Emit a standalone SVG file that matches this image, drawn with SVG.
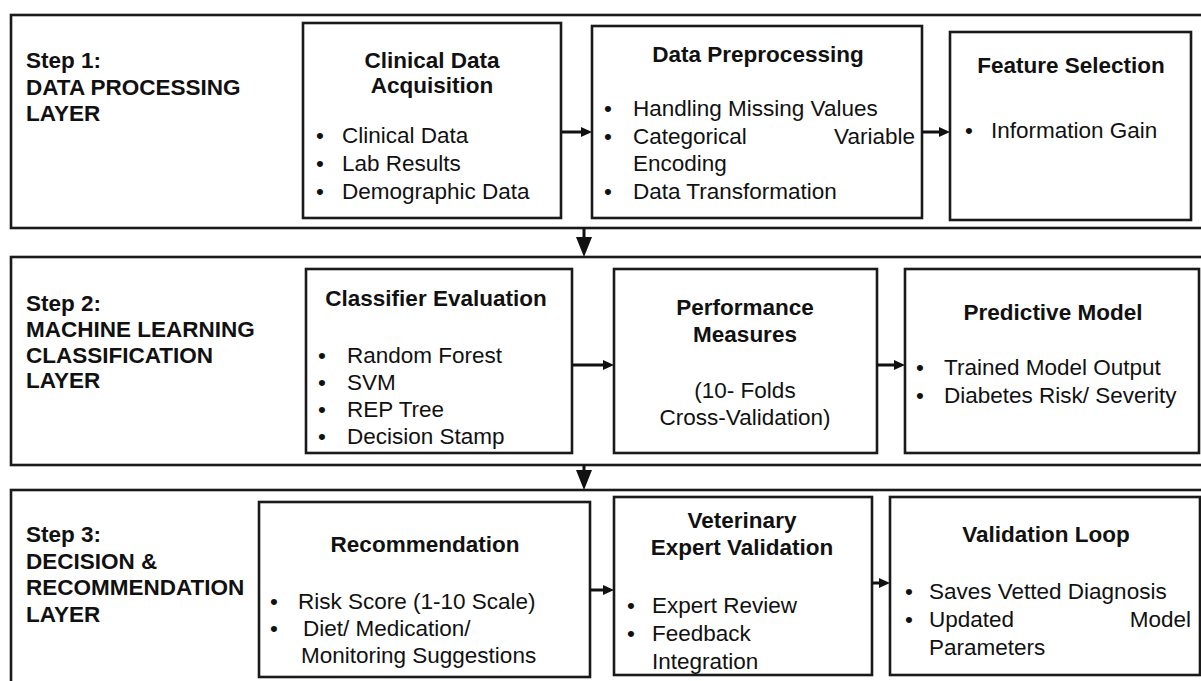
<svg xmlns="http://www.w3.org/2000/svg" width="1201" height="681" viewBox="0 0 1201 681">
<style>
text{font-family:"Liberation Sans",Arial,sans-serif;font-size:22.5px;fill:#111}
.b{font-weight:bold}
.c{text-anchor:middle}
.e{text-anchor:end}
.layer{fill:none;stroke:#1a1a1a;stroke-width:2.6}
.box{fill:#fff;stroke:#1a1a1a;stroke-width:2.6}
.con{stroke:#111;stroke-width:3;fill:none}
</style>
<defs>
<marker id="ah" viewBox="0 0 11 10" refX="1" refY="5" markerWidth="11" markerHeight="10" markerUnits="userSpaceOnUse" orient="auto"><path d="M0,0 L11,5 L0,10 z" fill="#111"/></marker>
<marker id="ahBig" viewBox="0 0 20 16" refX="1" refY="8" markerWidth="20" markerHeight="16" markerUnits="userSpaceOnUse" orient="auto"><path d="M0,0 L20,8 L0,16 z" fill="#111"/></marker>
</defs>
<rect width="1201" height="681" fill="#fff"/>

<g id="layer1">
<rect class="layer" x="11" y="15" width="1210" height="213"/>
<text class="b" x="26" y="68">Step 1:</text>
<text class="b" x="26" y="94.5">DATA PROCESSING</text>
<text class="b" x="26" y="121">LAYER</text>
</g>
<g id="clinical">
<rect class="box" x="303" y="23" width="258" height="195"/>
<text class="b c" x="432" y="68">Clinical Data</text>
<text class="b c" x="432" y="93">Acquisition</text>
<text x="316" y="143">•</text><text x="342" y="143">Clinical Data</text>
<text x="316" y="171">•</text><text x="342" y="171">Lab Results</text>
<text x="316" y="199">•</text><text x="342" y="199">Demographic Data</text>
</g>
<g id="preprocessing">
<rect class="box" x="592" y="26" width="330" height="192"/>
<text class="b c" x="758" y="62">Data Preprocessing</text>
<text x="604" y="116">•</text><text x="633" y="116">Handling Missing Values</text>
<text x="604" y="144">•</text><text x="633" y="144">Categorical</text><text class="e" x="915" y="144">Variable</text>
<text x="633" y="171">Encoding</text>
<text x="604" y="199">•</text><text x="633" y="199">Data Transformation</text>
</g>
<g id="feature">
<rect class="box" x="950" y="32" width="241" height="188"/>
<text class="b c" x="1071" y="73">Feature Selection</text>
<text x="965" y="138">•</text><text x="991" y="138">Information Gain</text>
</g>

<g id="layer2">
<rect class="layer" x="11" y="257" width="1210" height="208"/>
<text class="b" x="26" y="311">Step 2:</text>
<text class="b" x="26" y="337">MACHINE LEARNING</text>
<text class="b" x="26" y="362.5">CLASSIFICATION</text>
<text class="b" x="26" y="388">LAYER</text>
</g>
<g id="classifier">
<rect class="box" x="306" y="269" width="266" height="184"/>
<text class="b c" x="436" y="306">Classifier Evaluation</text>
<text x="318" y="363">•</text><text x="347" y="363">Random Forest</text>
<text x="318" y="390">•</text><text x="347" y="390">SVM</text>
<text x="318" y="417">•</text><text x="347" y="417">REP Tree</text>
<text x="318" y="444">•</text><text x="347" y="444">Decision Stamp</text>
</g>
<g id="performance">
<rect class="box" x="614" y="269" width="263" height="184"/>
<text class="b c" x="745" y="315">Performance</text>
<text class="b c" x="745" y="342">Measures</text>
<text class="c" x="745" y="398">(10- Folds</text>
<text class="c" x="745" y="425">Cross-Validation)</text>
</g>
<g id="predictive">
<rect class="box" x="905" y="269" width="294" height="184"/>
<text class="b c" x="1053" y="320">Predictive Model</text>
<text x="916" y="375">•</text><text x="944" y="375">Trained Model Output</text>
<text x="916" y="403">•</text><text x="944" y="403">Diabetes Risk/ Severity</text>
</g>

<g id="layer3">
<rect class="layer" x="11" y="490" width="1210" height="230"/>
<text class="b" x="26" y="542">Step 3:</text>
<text class="b" x="26" y="568.5">DECISION &amp;</text>
<text class="b" x="26" y="595">RECOMMENDATION</text>
<text class="b" x="26" y="622">LAYER</text>
</g>
<g id="recommendation">
<rect class="box" x="259" y="502" width="331" height="175"/>
<text class="b c" x="425" y="552">Recommendation</text>
<text x="270" y="609">•</text><text x="298" y="609">Risk Score (1-10 Scale)</text>
<text x="270" y="636">•</text><text x="303" y="636">Diet/ Medication/</text>
<text x="301" y="663">Monitoring Suggestions</text>
</g>
<g id="veterinary">
<rect class="box" x="614" y="497" width="258" height="178"/>
<text class="b c" x="742" y="528">Veterinary</text>
<text class="b c" x="742" y="555">Expert Validation</text>
<text x="627" y="613">•</text><text x="652" y="613">Expert Review</text>
<text x="627" y="641">•</text><text x="652" y="641">Feedback</text>
<text x="652" y="669">Integration</text>
</g>
<g id="validation">
<rect class="box" x="890" y="497" width="310" height="178"/>
<text class="b c" x="1046" y="542">Validation Loop</text>
<text x="905" y="599">•</text><text x="929" y="599">Saves Vetted Diagnosis</text>
<text x="905" y="627">•</text><text x="929" y="627">Updated</text><text class="e" x="1191" y="627">Model</text>
<text x="929" y="655">Parameters</text>
</g>

<g id="connectors">
<line class="con" x1="562" y1="132" x2="582" y2="132" marker-end="url(#ah)"/>
<line class="con" x1="922" y1="132" x2="940" y2="132" marker-end="url(#ah)"/>
<line class="con" x1="572" y1="365" x2="604" y2="365" marker-end="url(#ah)"/>
<line class="con" x1="877" y1="365" x2="895" y2="365" marker-end="url(#ah)"/>
<line class="con" x1="590" y1="590" x2="604" y2="590" marker-end="url(#ah)"/>
<line class="con" x1="872" y1="583" x2="880" y2="583" marker-end="url(#ah)"/>
<line class="con" x1="584" y1="228" x2="584" y2="238" marker-end="url(#ahBig)"/>
<line class="con" x1="584" y1="465" x2="584" y2="471" marker-end="url(#ahBig)"/>
</g>
</svg>
